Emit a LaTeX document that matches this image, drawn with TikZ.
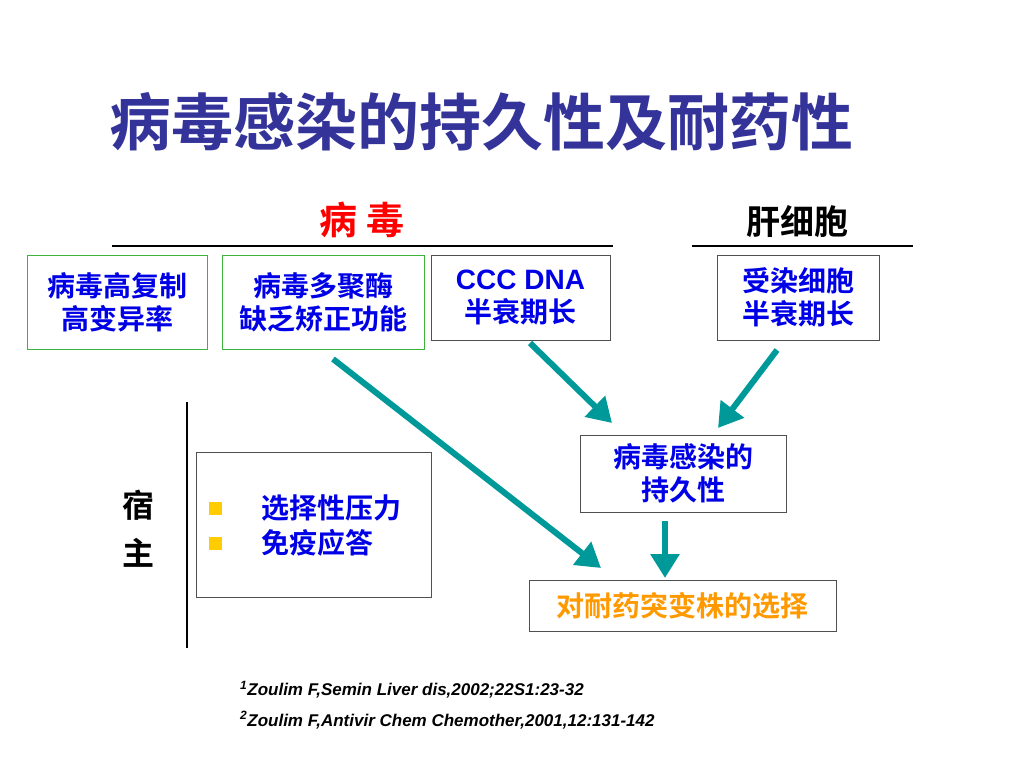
\documentclass[tikz,border=0pt]{standalone}
\usepackage{fontspec}
\setmainfont{Liberation Sans}
\newfontfamily\cjk[BoldFont={Noto Sans CJK SC Bold}]{Noto Sans CJK SC}
\usetikzlibrary{arrows.meta}
\definecolor{titleblue}{RGB}{51,51,153}
\definecolor{txtblue}{RGB}{0,0,230}
\definecolor{teal1}{RGB}{0,153,153}
\definecolor{orng}{RGB}{255,153,0}
\definecolor{gold}{RGB}{255,204,0}
\definecolor{grn}{RGB}{60,180,60}
\definecolor{boxgray}{RGB}{80,80,80}
\tikzset{
  boxg/.style={draw=grn, line width=1pt, inner sep=0pt, align=center, text=txtblue, font=\cjk\bfseries\fontsize{28}{33}\selectfont},
  boxk/.style={draw=boxgray, line width=1pt, inner sep=0pt, align=center, text=txtblue, font=\cjk\bfseries\fontsize{28}{33}\selectfont},
  arr/.style={draw=teal1, line width=6pt, -{Triangle[width=28pt,length=24pt]}},
  rule/.style={line width=2pt, black},
  ref/.style={anchor=west, font=\bfseries\itshape\fontsize{17}{20}\selectfont, inner sep=0pt}
}
\begin{document}
\begin{tikzpicture}[x=1pt,y=-1pt]
\useasboundingbox[fill=white] (0,0) rectangle (1024,768);
% title
\node[text=titleblue, font=\cjk\bfseries\fontsize{62}{68}\selectfont] (title) at (481,122) {病毒感染的持久性及耐药性};
% headers
\node[text=red, font=\cjk\bfseries\fontsize{38}{40}\selectfont] (virus) at (362,220) {病 毒};
\node[font=\cjk\bfseries\fontsize{34}{38}\selectfont] (liver) at (797,222) {肝细胞};
\coordinate (vl1) at (112,246); \coordinate (vl2) at (613,246);
\coordinate (hl1) at (692,246); \coordinate (hl2) at (913,246);
\draw[rule] (vl1) -- (vl2);
\draw[rule] (hl1) -- (hl2);
% boxes
\node[boxg, minimum width=180pt, minimum height=94pt] (b1) at (117,302) {病毒高复制\\高变异率};
\node[boxg, minimum width=202pt, minimum height=94pt] (b2) at (323,302) {病毒多聚酶\\缺乏矫正功能};
\node[boxk, minimum width=179pt, minimum height=85pt] (b3) at (520.5,297.5) {{\fontspec{Liberation Sans}\bfseries CCC DNA}\\半衰期长};
\node[boxk, minimum width=162pt, minimum height=85pt] (b4) at (798,297.5) {受染细胞\\半衰期长};
\node[boxk, minimum width=206pt, minimum height=77pt] (b5) at (683,473.5) {病毒感染的\\持久性};
\node[boxk, minimum width=307pt, minimum height=51pt, text=orng] (b6) at (682.5,605.5) {对耐药突变株的选择};
\node[draw=boxgray, line width=1pt, minimum width=235pt, minimum height=145pt, inner sep=0pt] (host) at (313.5,524.5) {};
% host content
\node[fill=gold, minimum size=13pt, inner sep=0pt] (bu1) at (215.5,508.5) {};
\node[fill=gold, minimum size=13pt, inner sep=0pt] (bu2) at (215.5,543.5) {};
\node[anchor=west, inner sep=0pt, text=txtblue, font=\cjk\bfseries\fontsize{28}{30}\selectfont] (h1) at (261,508) {选择性压力};
\node[anchor=west, inner sep=0pt, text=txtblue, font=\cjk\bfseries\fontsize{28}{30}\selectfont] (h2) at (261,543) {免疫应答};
% host label
\coordinate (vt) at (187,402); \coordinate (vb) at (187,648);
\draw[rule] (vt) -- (vb);
\node[font=\cjk\bfseries\fontsize{32}{36}\selectfont] (su) at (138,505) {宿};
\node[font=\cjk\bfseries\fontsize{32}{36}\selectfont] (zhu) at (138,553) {主};
% arrows
\coordinate (a1s) at (333,359); \coordinate (a1e) at (601,568);
\coordinate (a2s) at (530,343); \coordinate (a2e) at (612,423);
\coordinate (a3s) at (777,350); \coordinate (a3e) at (718,428);
\coordinate (a4s) at (665,521); \coordinate (a4e) at (665,578);
\draw[arr] (a1s) -- (a1e);
\draw[arr] (a2s) -- (a2e);
\draw[arr] (a3s) -- (a3e);
\draw[arr] (a4s) -- (a4e);
% references
\node[ref] (r1) at (240,690) {\textsuperscript{\fontsize{12}{12}\selectfont 1}Zoulim F,Semin Liver dis,2002;22S1:23-32};
\node[ref] (r2) at (240,720) {\textsuperscript{\fontsize{12}{12}\selectfont 2}Zoulim F,Antivir Chem Chemother,2001,12:131-142};
\end{tikzpicture}
\end{document}
